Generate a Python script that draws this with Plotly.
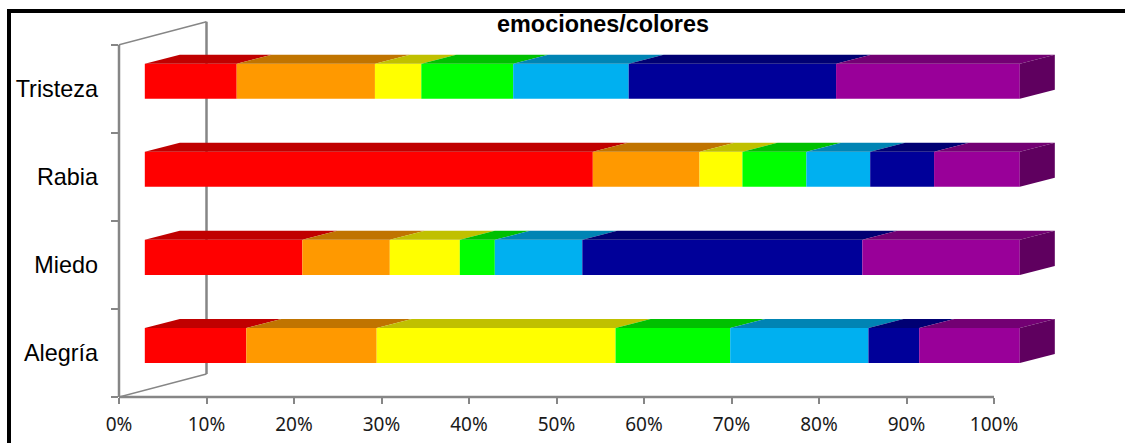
import plotly.graph_objects as go

# Stacked 100% bars with a drawn-in oblique depth, emotion by colour
emociones = ["Alegría", "Miedo", "Rabia", "Tristeza"]
colores = ["Rojo", "Naranja", "Amarillo", "Verde", "Celeste", "Azul", "Violeta"]
alegria = [11.6, 14.9, 27.3, 13.1, 15.8, 5.8, 11.5]
miedo = [18.0, 10.0, 8.0, 4.0, 10.0, 32.0, 18.0]
rabia = [51.2, 12.2, 4.9, 7.3, 7.3, 7.3, 9.8]
tristeza = [10.5, 15.8, 5.3, 10.5, 13.2, 23.7, 21.0]
filas = [alegria, miedo, rabia, tristeza]

frente = ["#FF0000", "#FF9900", "#FFFF00", "#00FF00", "#00B0F0", "#000099", "#990099"]
techo = ["#C00000", "#C07400", "#C0C000", "#00C000", "#0084B4", "#000073", "#730073"]
lateral = "#5F005F"
eje = "#868686"

# Canvas and plot-area geometry
W, H = 1125, 443
M_L, M_R, M_T, M_B = 119, 61, 19.6, 46.3
X_MAX, Y_MAX = 108, 4.28
# Oblique projection in data units
DESPL_X, DX_BARRA, DY_BARRA = 2.95, 4.0, 0.102
DX_PARED, DY_PARED = 10.0, 0.26
ALTO, DESDE = 0.398, -0.114

fig = go.Figure()
pos = [i + 0.5 for i in range(len(emociones))]

# Front faces
for s, nombre in enumerate(colores):
    valores = [fila[s] for fila in filas]
    inicios = [DESPL_X + sum(fila[:s]) for fila in filas]
    fig.add_trace(go.Bar(
        y=pos, x=valores, base=inicios, orientation="h", name=nombre,
        width=ALTO, offset=DESDE, marker=dict(color=frente[s], line=dict(width=0)),
    ))

# Top faces and the closing side of each bar
for k, fila in enumerate(filas):
    y0 = pos[k] + DESDE + ALTO
    acum = DESPL_X
    for s, v in enumerate(fila):
        x = [acum, acum + v, acum + v + DX_BARRA, acum + DX_BARRA, acum]
        y = [y0, y0, y0 + DY_BARRA, y0 + DY_BARRA, y0]
        fig.add_trace(go.Scatter(x=x, y=y, mode="lines", fill="toself", fillcolor=techo[s],
                                 line=dict(width=0), hoverinfo="skip"))
        acum += v
    y1 = pos[k] + DESDE
    fig.add_trace(go.Scatter(
        x=[acum, acum + DX_BARRA, acum + DX_BARRA, acum, acum],
        y=[y0, y0 + DY_BARRA, y1 + DY_BARRA, y1, y0],
        mode="lines", fill="toself", fillcolor=lateral, line=dict(width=0), hoverinfo="skip"))

def segmento(x0, y0, x1, y1, ancho=2.5, xref="x", yref="y"):
    return dict(type="line", xref=xref, yref=yref, x0=x0, y0=y0, x1=x1, y1=y1,
                layer="below", line=dict(color=eje, width=ancho))

def borde(px0, py0, px1, py1):
    ancho_area, alto_area = W - M_L - M_R, H - M_T - M_B
    return dict(type="line", xref="paper", yref="paper",
                x0=(px0 - M_L) / ancho_area, x1=(px1 - M_L) / ancho_area,
                y0=1 - (py0 - M_T) / alto_area, y1=1 - (py1 - M_T) / alto_area,
                line=dict(color="#000000", width=4))

n = len(emociones)
formas = [
    # Paper references on the edge axis keep these two lines from being clipped in half
    segmento(0, 0, 0, n, xref="paper"),
    segmento(0, 0, 100, 0, yref="paper"),
    segmento(DX_PARED, DY_PARED, DX_PARED, n + DY_PARED),
    segmento(0, 0, DX_PARED, DY_PARED, 1.5),
    segmento(0, n, DX_PARED, n + DY_PARED, 1.5),
    borde(7, 10.5, W, 10.5),
    borde(9, 9, 9, H),
]

fig.update_layout(
    width=W, height=H, autosize=False, showlegend=False, barmode="overlay",
    plot_bgcolor="white", paper_bgcolor="white",
    margin=dict(l=M_L, r=M_R, t=M_T, b=M_B, pad=0, autoexpand=False),
    shapes=formas,
    title=dict(text="<b>emociones/colores</b>", x=603 / W, xanchor="center",
               y=1 - 24 / H, yanchor="middle", xref="container", yref="container",
               font=dict(family="Liberation Sans", size=23.4, color="#000000")),
    xaxis=dict(range=[0, X_MAX], showgrid=False, zeroline=False, showline=False, automargin=False,
               tickmode="array", tickvals=list(range(0, 101, 10)),
               ticktext=[f"{v}%" for v in range(0, 101, 10)],
               ticks="outside", ticklen=6, tickwidth=2, tickcolor=eje, ticklabelstandoff=4,
               tickfont=dict(family="Noto Sans", size=19, color="#1a1a1a")),
    yaxis=dict(range=[0, Y_MAX], showgrid=False, zeroline=False, showline=False, automargin=False,
               tickmode="array", tickvals=pos, ticktext=emociones, ticks="",
               ticklabelstandoff=20,
               tickfont=dict(family="Liberation Sans", size=23.4, color="#000000"),
               minor=dict(tickmode="array", tickvals=list(range(n + 1)), ticks="outside",
                          ticklen=7, tickwidth=2, tickcolor=eje, showgrid=False)),
)

fig.write_html("out.html")
